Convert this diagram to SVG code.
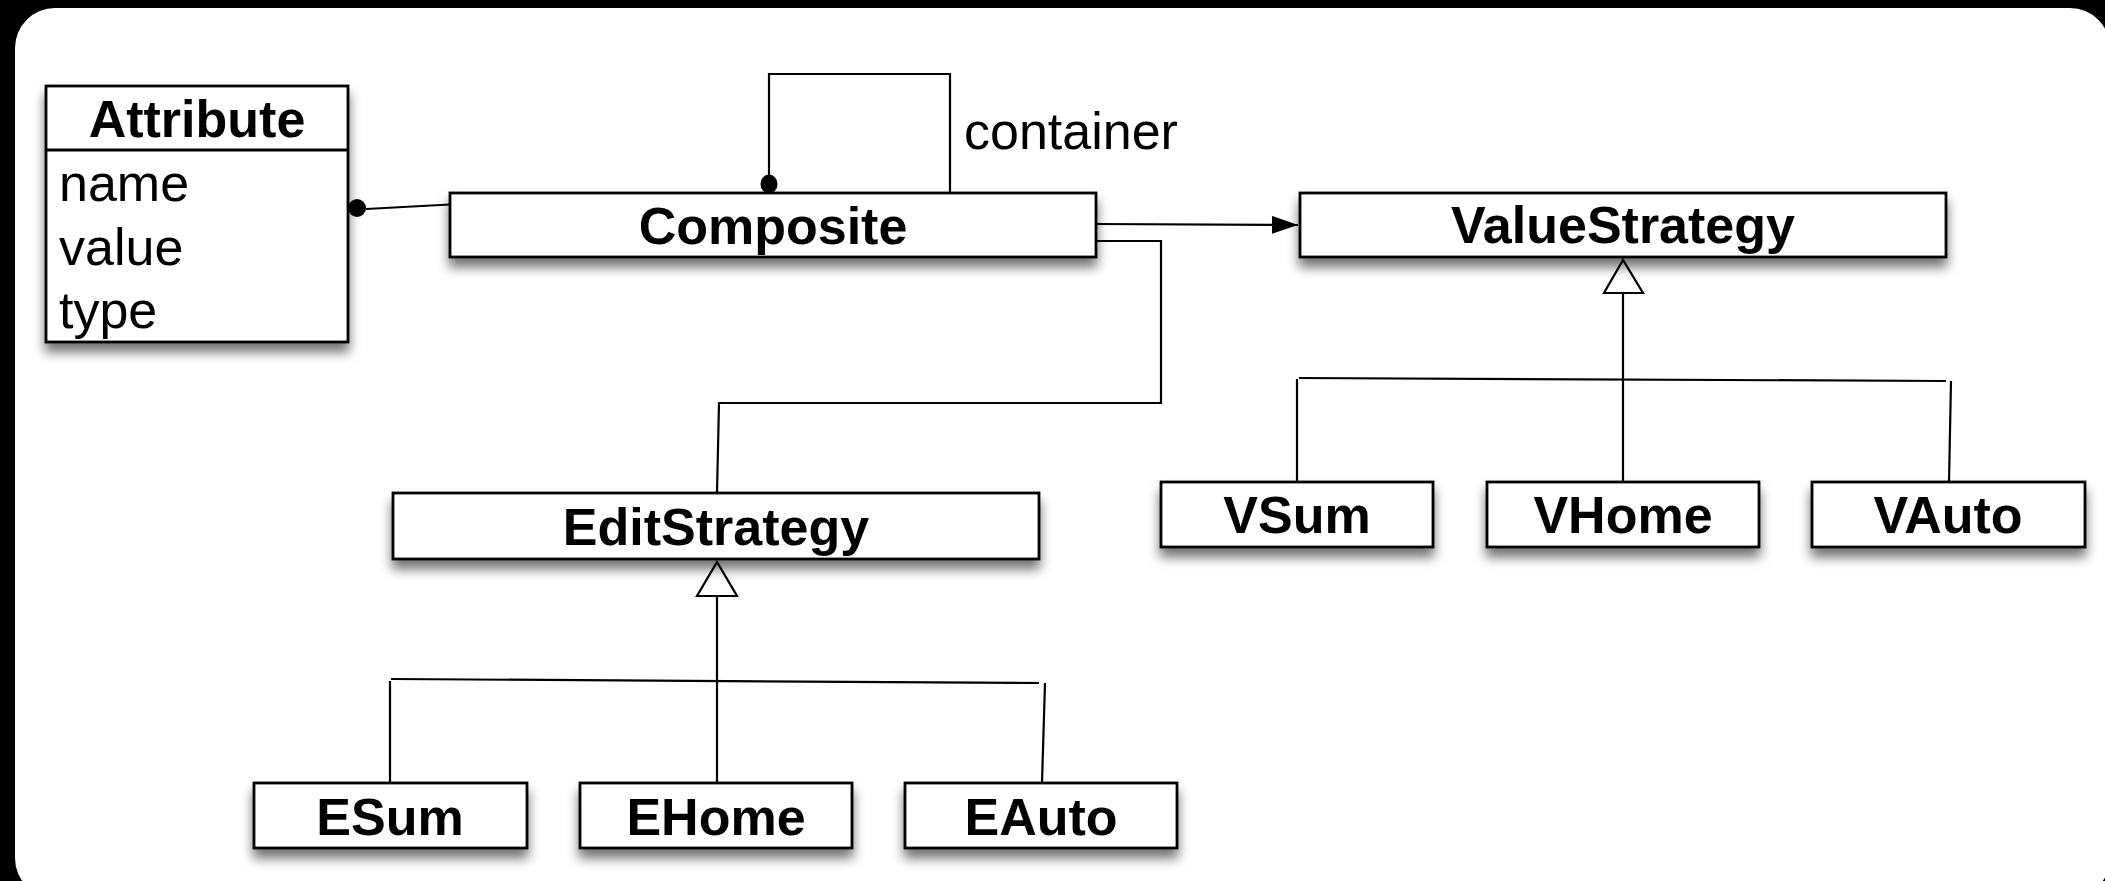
<svg xmlns="http://www.w3.org/2000/svg" width="2105" height="881" viewBox="0 0 2105 881">
<defs>
<filter id="sh" x="-10%" y="-30%" width="120%" height="180%">
<feDropShadow dx="0" dy="9" stdDeviation="6" flood-color="#000" flood-opacity="0.55"/>
</filter>
<marker id="arr" viewBox="0 0 26 18" refX="26" refY="9" markerWidth="26" markerHeight="18" markerUnits="userSpaceOnUse" orient="auto">
<path d="M0,0 L26,9 L0,18 Z" fill="#000"/>
</marker>
</defs>
<style>
.box{fill:#fff;stroke:#000;stroke-width:2.8}
.ln{fill:none;stroke:#000;stroke-width:2.2}
.tri{fill:#fff;stroke:#000;stroke-width:2.2}
.b{font-family:"Liberation Sans",Arial,sans-serif;font-weight:bold;font-size:52px;text-anchor:middle;fill:#000}
.r{font-family:"Liberation Sans",Arial,sans-serif;font-size:52px;fill:#000}
</style>
<rect x="0" y="0" width="2105" height="881" fill="#000"/>
<rect x="15" y="8" width="2095" height="890" rx="40" ry="40" fill="#fff"/>

<g id="connectors">
<line class="ln" x1="366" y1="209" x2="450" y2="204.5"/>
<circle cx="357" cy="208" r="9" fill="#000"/>
<polyline class="ln" points="769,184 769,74 950,74 950,193"/>
<ellipse cx="769" cy="184" rx="8.5" ry="9.5" fill="#000"/>
<line class="ln" x1="1096" y1="224" x2="1298" y2="225" marker-end="url(#arr)"/>
<polyline class="ln" points="1096,241 1161,241 1161,403 719,403 717,493"/>
<line class="ln" x1="1623" y1="293" x2="1623" y2="482"/>
<polygon class="tri" points="1623,260 1604,293 1643,293"/>
<line class="ln" x1="1299" y1="378" x2="1946" y2="381"/>
<line class="ln" x1="1297" y1="379" x2="1297" y2="482"/>
<line class="ln" x1="1951" y1="381" x2="1949" y2="482"/>
<line class="ln" x1="717" y1="596" x2="717" y2="783"/>
<polygon class="tri" points="717,562 697,596 737,596"/>
<line class="ln" x1="391" y1="679" x2="1039" y2="683"/>
<line class="ln" x1="390" y1="681" x2="390" y2="783"/>
<line class="ln" x1="1045" y1="683" x2="1042" y2="783"/>
</g>

<g id="Attribute">
<rect class="box" filter="url(#sh)" x="46" y="86" width="302" height="256"/>
<line x1="46" y1="150" x2="348" y2="150" stroke="#000" stroke-width="2.8"/>
<text class="b" x="197" y="137">Attribute</text>
<text class="r" x="59" y="201">name</text>
<text class="r" x="59" y="265">value</text>
<text class="r" x="59" y="328">type</text>
</g>

<g id="Composite">
<rect class="box" filter="url(#sh)" x="450" y="193" width="646" height="64"/>
<text class="b" x="773" y="244">Composite</text>
</g>
<text id="container-label" class="r" x="964" y="149">container</text>

<g id="ValueStrategy">
<rect class="box" filter="url(#sh)" x="1300" y="193" width="646" height="64"/>
<text class="b" x="1623" y="243">ValueStrategy</text>
</g>

<g id="VSum">
<rect class="box" filter="url(#sh)" x="1161" y="482" width="272" height="65"/>
<text class="b" x="1297" y="533">VSum</text>
</g>
<g id="VHome">
<rect class="box" filter="url(#sh)" x="1487" y="482" width="272" height="65"/>
<text class="b" x="1623" y="533">VHome</text>
</g>
<g id="VAuto">
<rect class="box" filter="url(#sh)" x="1812" y="482" width="273" height="65"/>
<text class="b" x="1948" y="533">VAuto</text>
</g>

<g id="EditStrategy">
<rect class="box" filter="url(#sh)" x="393" y="493" width="646" height="66"/>
<text class="b" x="716" y="545">EditStrategy</text>
</g>

<g id="ESum">
<rect class="box" filter="url(#sh)" x="254" y="783" width="273" height="65"/>
<text class="b" x="390" y="835">ESum</text>
</g>
<g id="EHome">
<rect class="box" filter="url(#sh)" x="580" y="783" width="272" height="65"/>
<text class="b" x="716" y="835">EHome</text>
</g>
<g id="EAuto">
<rect class="box" filter="url(#sh)" x="905" y="783" width="272" height="65"/>
<text class="b" x="1041" y="835">EAuto</text>
</g>
</svg>
